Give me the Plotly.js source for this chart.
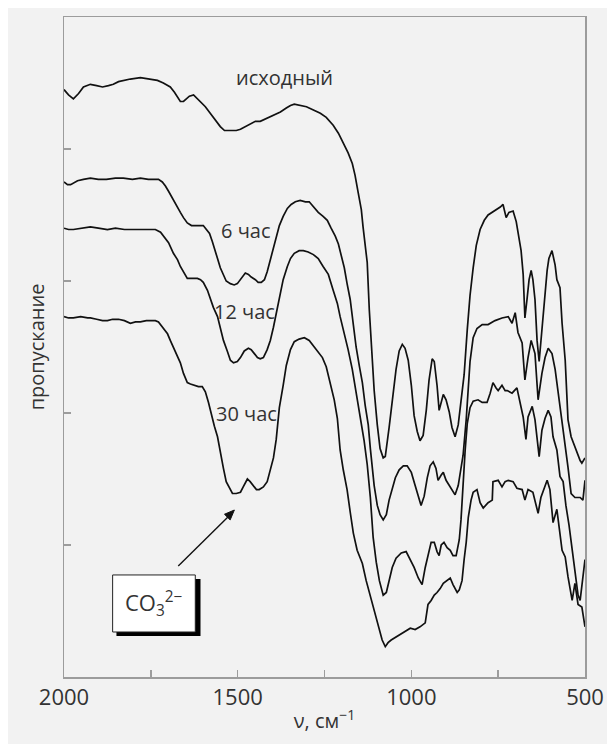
<!DOCTYPE html>
<html>
<head>
<meta charset="utf-8">
<script src="https://cdn.plot.ly/plotly-3.0.1.min.js"></script>
<style>
  html, body { margin: 0; padding: 0; background: #ffffff; overflow: hidden; }
  #chart { position: absolute; left: 8px; top: 8px; width: 599px; height: 736px; }
</style>
</head>
<body>
<div id="chart"></div>
<script>
// Wavenumber (cm^-1) and transmittance (arbitrary units)
const nuInitial = [2000,1987,1973,1958,1944,1924,1906,1889,1872,1858,1843,1829,1809,1780,1751,1731,1714,1694,1682,1673,1665,1656,1648,1639,1627,1619,1607,1593,1579,1564,1550,1538,1530,1515,1504,1492,1478,1464,1449,1435,1418,1400,1377,1360,1348,1337,1320,1302,1285,1262,1245,1225,1210,1196,1182,1170,1162,1153,1144,1139,1133,1127,1121,1114,1107,1098,1090,1081,1075,1064,1052,1044,1035,1026,1018,1009,1000,992,983,975,966,957,949,940,934,926,920,914,908,900,891,883,874,865,857,848,839,831,822,813,802,790,779,767,756,744,736,727,719,707,698,690,684,678,673,667,661,655,650,644,638,632,627,621,615,609,604,595,586,581,572,566,557,549,540,532,523,514,509,500];
const tInitial = [4.45,4.41,4.38,4.42,4.47,4.49,4.48,4.47,4.48,4.49,4.51,4.52,4.53,4.54,4.53,4.52,4.50,4.47,4.43,4.39,4.36,4.36,4.38,4.40,4.41,4.39,4.36,4.32,4.27,4.22,4.17,4.14,4.14,4.14,4.14,4.15,4.17,4.19,4.21,4.21,4.23,4.25,4.28,4.31,4.33,4.34,4.33,4.32,4.30,4.27,4.24,4.18,4.12,4.05,3.97,3.89,3.80,3.67,3.54,3.41,3.27,3.14,2.78,2.48,2.17,1.91,1.73,1.66,1.67,1.89,2.14,2.33,2.47,2.52,2.49,2.40,2.21,1.98,1.86,1.79,1.83,2.02,2.25,2.41,2.39,2.21,2.02,2.08,2.14,2.10,2.01,1.89,1.82,1.91,2.10,2.29,2.63,2.89,3.10,3.27,3.39,3.46,3.50,3.52,3.54,3.56,3.58,3.48,3.52,3.53,3.45,3.33,3.23,3.05,2.72,2.86,3.01,3.08,3.01,2.86,2.55,2.39,2.55,2.70,2.89,3.08,3.17,3.23,3.12,3.01,2.95,2.68,2.40,1.95,1.82,1.76,1.70,1.64,1.62,1.66];

const nu6h = [2000,1990,1981,1970,1961,1944,1924,1901,1878,1852,1829,1803,1780,1757,1743,1728,1717,1708,1699,1691,1682,1673,1665,1656,1645,1633,1622,1607,1599,1590,1581,1573,1564,1558,1550,1541,1533,1521,1510,1501,1489,1478,1469,1461,1449,1441,1432,1423,1415,1406,1397,1389,1380,1369,1357,1346,1334,1320,1305,1294,1282,1268,1254,1242,1231,1219,1210,1202,1193,1185,1176,1167,1159,1150,1141,1133,1124,1118,1113,1107,1098,1090,1081,1072,1064,1055,1046,1035,1023,1012,1000,989,980,972,963,954,946,937,929,923,914,908,900,888,880,874,865,857,851,842,836,831,822,811,796,779,759,739,721,710,701,693,681,673,664,655,644,635,624,615,606,595,586,578,566,557,549,540,529,514,506,500];
const t6h = [3.75,3.73,3.73,3.75,3.76,3.77,3.78,3.77,3.77,3.78,3.78,3.77,3.78,3.77,3.77,3.77,3.75,3.72,3.68,3.64,3.60,3.56,3.52,3.48,3.44,3.42,3.42,3.42,3.42,3.39,3.36,3.30,3.23,3.17,3.10,3.04,3.00,2.98,2.97,2.98,3.02,3.06,3.05,3.03,3.01,2.99,2.99,3.01,3.07,3.16,3.25,3.34,3.42,3.49,3.55,3.58,3.60,3.61,3.60,3.60,3.56,3.52,3.49,3.46,3.40,3.34,3.28,3.20,3.10,2.98,2.86,2.67,2.50,2.36,2.23,2.06,1.91,1.73,1.61,1.45,1.30,1.23,1.19,1.23,1.34,1.43,1.51,1.57,1.60,1.60,1.55,1.45,1.36,1.30,1.37,1.51,1.60,1.63,1.58,1.49,1.53,1.55,1.49,1.44,1.40,1.38,1.45,1.57,1.68,1.95,2.21,2.39,2.57,2.64,2.67,2.67,2.70,2.72,2.73,2.68,2.76,2.61,2.53,2.25,2.42,2.55,2.45,2.10,2.30,2.42,2.49,2.45,2.33,2.17,1.97,1.77,1.59,1.39,1.36,1.36,1.34,1.49];

const nu12h = [2000,1987,1973,1952,1924,1901,1875,1852,1826,1803,1780,1757,1737,1722,1711,1699,1685,1673,1665,1653,1645,1630,1616,1607,1599,1587,1579,1570,1558,1550,1541,1530,1521,1512,1501,1492,1481,1469,1461,1452,1443,1435,1426,1415,1406,1397,1389,1377,1369,1357,1348,1337,1323,1311,1297,1282,1268,1254,1239,1225,1213,1205,1193,1182,1170,1159,1147,1136,1127,1118,1110,1101,1092,1081,1072,1064,1055,1044,1029,1015,1003,992,980,969,960,952,943,934,926,920,914,906,897,888,880,871,862,857,851,845,839,831,822,808,796,782,773,765,756,750,739,730,724,710,696,687,678,670,664,652,644,632,624,615,606,598,592,581,572,563,555,546,537,529,520,514,509,503,500];
const t12h = [3.40,3.39,3.39,3.40,3.41,3.40,3.39,3.40,3.39,3.39,3.39,3.39,3.39,3.37,3.33,3.29,3.21,3.16,3.11,3.06,3.02,3.02,3.02,3.01,2.99,2.93,2.86,2.80,2.73,2.64,2.55,2.47,2.40,2.38,2.39,2.42,2.47,2.49,2.48,2.45,2.42,2.41,2.42,2.48,2.55,2.65,2.76,2.91,3.01,3.11,3.17,3.21,3.23,3.23,3.22,3.20,3.17,3.11,3.05,2.93,2.83,2.73,2.61,2.48,2.33,2.16,1.99,1.79,1.61,1.36,1.06,0.87,0.73,0.62,0.64,0.73,0.83,0.90,0.94,0.95,0.89,0.83,0.75,0.70,0.83,0.91,1.02,1.02,0.95,0.92,1.00,1.02,0.98,0.96,0.92,0.92,1.04,1.19,1.49,1.72,1.92,2.04,2.09,2.10,2.08,2.08,2.15,2.23,2.19,2.17,2.21,2.17,2.17,2.15,2.19,2.08,1.97,1.80,1.97,2.05,1.95,1.67,1.87,1.96,2.02,1.97,1.82,1.72,1.52,1.48,1.30,1.15,0.96,0.77,0.62,0.58,0.70,0.85,0.89];

const nu30h = [2000,1987,1973,1952,1932,1924,1906,1889,1875,1860,1843,1826,1809,1794,1780,1763,1751,1737,1728,1720,1711,1702,1694,1685,1676,1665,1656,1645,1636,1625,1613,1602,1593,1584,1576,1567,1558,1550,1541,1533,1524,1515,1504,1492,1484,1472,1464,1455,1446,1438,1426,1415,1406,1397,1389,1380,1369,1360,1348,1337,1323,1308,1294,1279,1268,1256,1245,1233,1222,1213,1205,1196,1185,1176,1167,1156,1141,1130,1118,1107,1095,1084,1075,1067,1058,1046,1032,1018,1003,989,975,960,952,943,934,926,917,908,897,888,880,868,862,854,848,842,836,828,822,811,802,793,779,767,765,750,739,730,721,707,696,681,673,664,650,635,627,618,609,601,592,581,572,566,557,549,537,529,520,509,500];
const t30h = [2.73,2.72,2.72,2.73,2.72,2.72,2.71,2.70,2.70,2.71,2.71,2.70,2.68,2.69,2.69,2.70,2.70,2.70,2.69,2.66,2.63,2.60,2.55,2.50,2.45,2.38,2.30,2.23,2.22,2.21,2.20,2.20,2.16,2.08,1.99,1.90,1.82,1.72,1.58,1.48,1.43,1.39,1.39,1.40,1.44,1.50,1.48,1.45,1.42,1.42,1.44,1.48,1.57,1.66,1.80,2.04,2.21,2.36,2.48,2.54,2.56,2.57,2.55,2.50,2.46,2.42,2.35,2.23,2.10,1.96,1.72,1.57,1.42,1.25,1.09,0.96,0.86,0.73,0.61,0.49,0.38,0.28,0.23,0.26,0.28,0.30,0.32,0.34,0.37,0.36,0.38,0.41,0.55,0.58,0.62,0.64,0.67,0.71,0.73,0.75,0.70,0.64,0.66,0.73,0.89,1.02,1.21,1.34,1.40,1.42,1.32,1.28,1.32,1.34,1.48,1.49,1.44,1.48,1.49,1.48,1.43,1.42,1.34,1.42,1.40,1.24,1.36,1.43,1.49,1.42,1.17,1.27,1.08,0.96,0.91,0.76,0.58,0.71,0.55,0.53,0.38];

const seriesNames = ["исходный", "6 час", "12 час", "30 час"];
const xTickVals = [2000, 1500, 1000, 500];
const xTickText = ["2000", "1500", "1000", "500"];
const xMinorTickVals = [1750, 1250, 750];
const yTickVals = [1, 2, 3, 4];

const lineStyle = {color: "#111111", width: 1.7};
const xs = [nuInitial, nu6h, nu12h, nu30h];
const ys = [tInitial, t6h, t12h, t30h];
const traces = xs.map((x, i) => ({
  type: "scatter", mode: "lines", x: x, y: ys[i], name: seriesNames[i],
  line: lineStyle, hoverinfo: "skip"
}));

const txtFont = {family: "Open Sans, Noto Sans, sans-serif", size: 20, color: "#333333"};
const tickFont = {family: "Open Sans, Noto Sans, sans-serif", size: 22, color: "#333333"};
const boxFont = {family: "Open Sans, Noto Sans, sans-serif", size: 22, color: "#333333"};
const axisCommon = {
  showline: true, mirror: true, linecolor: "#9c9c9c", linewidth: 1.5,
  ticks: "inside", ticklen: 7, tickwidth: 1.5, tickcolor: "#9c9c9c",
  showgrid: false, zeroline: false, fixedrange: true
};

const layout = {
  width: 599, height: 736,
  margin: {l: 56, r: 22, t: 9, b: 67},
  paper_bgcolor: "#f2f2f2", plot_bgcolor: "#f2f2f2",
  showlegend: false,
  font: txtFont,
  xaxis: Object.assign({}, axisCommon, {
    range: [2000, 500], tickmode: "array", tickvals: xTickVals, ticktext: xTickText,
    tickfont: tickFont,
    minor: {tickmode: "array", tickvals: xMinorTickVals, ticks: "inside", ticklen: 7,
            tickwidth: 1.5, tickcolor: "#9c9c9c", showgrid: false},
    title: {text: "ν, см<sup>−1</sup>", font: txtFont, standoff: 4}
  }),
  yaxis: Object.assign({}, axisCommon, {
    range: [0, 5], tickmode: "array", tickvals: yTickVals, showticklabels: false,
    title: {text: "пропускание", font: txtFont, standoff: 12}
  }),
  shapes: [
    // shadow and frame of the CO3 label box
    {type: "rect", xref: "x", yref: "y", x0: 1849, x1: 1607, y0: 0.311, y1: 0.742,
     fillcolor: "#000000", line: {width: 0}, layer: "above"},
    {type: "rect", xref: "x", yref: "y", x0: 1860, x1: 1622, y0: 0.341, y1: 0.773,
     fillcolor: "#ffffff", line: {color: "#222222", width: 1}, layer: "above"},
    // arrow shaft and head pointing at the carbonate doublet
    {type: "line", xref: "x", yref: "y", x0: 1671, y0: 0.841, x1: 1528, y1: 1.213,
     line: {color: "#111111", width: 1.4}, layer: "above"},
    {type: "path", xref: "x", yref: "y",
     path: "M 1509.5,1.265 L 1521.6,1.190 L 1538.0,1.233 Z",
     fillcolor: "#111111", line: {color: "#111111", width: 1}, layer: "above"}
  ],
  annotations: [
    {x: 1366, y: 4.54, xref: "x", yref: "y", text: "исходный", showarrow: false, font: txtFont},
    {x: 1478, y: 3.38, xref: "x", yref: "y", text: "6 час", showarrow: false, font: txtFont},
    {x: 1481, y: 2.77, xref: "x", yref: "y", text: "12 час", showarrow: false, font: txtFont},
    {x: 1475, y: 2.00, xref: "x", yref: "y", text: "30 час", showarrow: false, font: txtFont},
    {x: 1741, y: 0.557, xref: "x", yref: "y", text: "CO<sub>3</sub><sup>2−</sup>", showarrow: false, font: boxFont}
  ]
};

Plotly.newPlot("chart", traces, layout, {staticPlot: true, displayModeBar: false});
</script>
</body>
</html>
